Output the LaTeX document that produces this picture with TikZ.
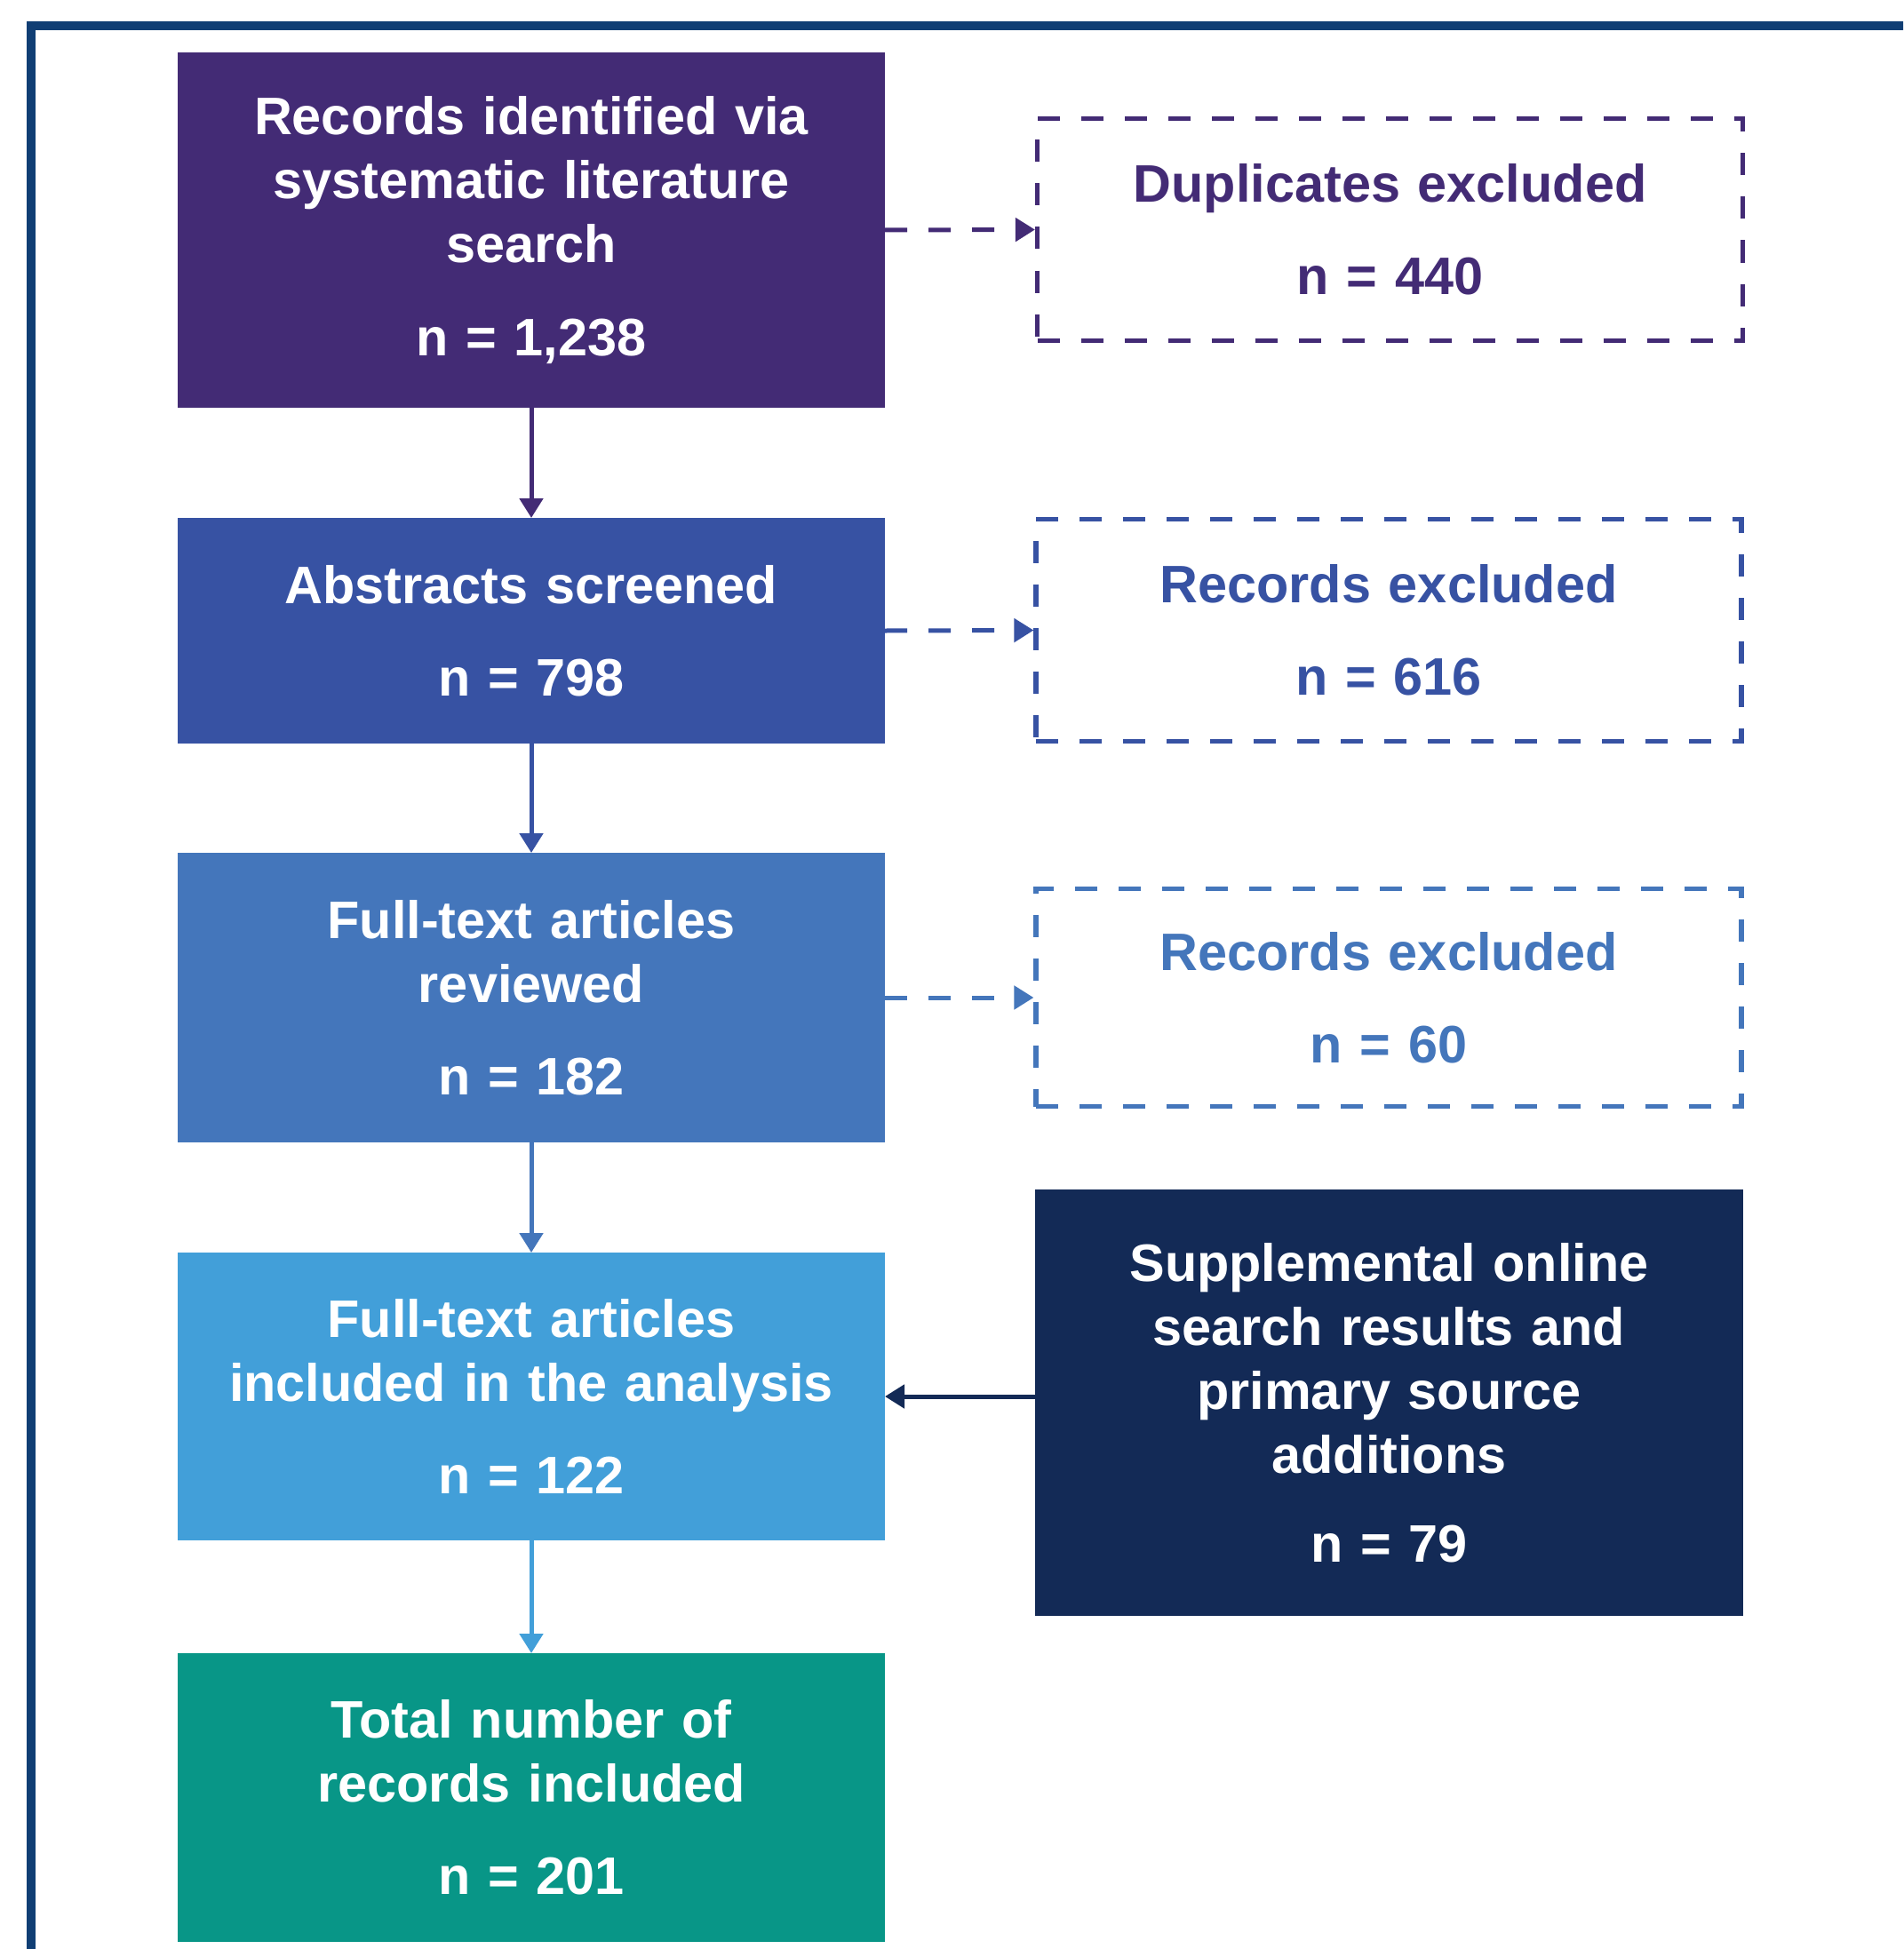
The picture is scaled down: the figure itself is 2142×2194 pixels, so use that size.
\documentclass[tikz,border=0pt]{standalone}
\usepackage{fontspec}
\setmainfont{Liberation Sans}
\usetikzlibrary{arrows.meta}

\definecolor{idcol}{HTML}{432B75}
\definecolor{abscol}{HTML}{3752A3}
\definecolor{revcol}{HTML}{4476BB}
\definecolor{inccol}{HTML}{429FD9}
\definecolor{supcol}{HTML}{132A56}
\definecolor{totcol}{HTML}{089687}
\definecolor{framecol}{HTML}{103E74}

\begin{document}
\begin{tikzpicture}[x=0.25pt,y=-0.25pt,
    stage/.style={fill=#1, text=white, inner sep=0pt, outer sep=0pt,
        minimum width=199pt, text width=190pt, align=center,
        font=\bfseries\fontsize{14.85}{18}\selectfont},
    excl/.style={draw=#1, text=#1, line width=1.3pt, dash pattern=on 6.25pt off 6pt,
        inner sep=0pt, minimum width=198.5pt, minimum height=62.5pt,
        text width=190pt, align=center, font=\bfseries\fontsize{14.85}{18}\selectfont},
    flow/.style={draw=#1, line width=1.25pt, -{Triangle[length=5.5pt,width=6.5pt]}},
    exflow/.style={flow=#1, dash pattern=on 6.25pt off 6pt}]

    \useasboundingbox (0,0) rectangle (2142,2194);
    \clip (0,0) rectangle (2142,2194);

    % frame
    \draw[framecol, line width=2.5pt] (35,2300) -- (35,29) -- (2300,29);

    % main column
    \node[stage=idcol, minimum height=100pt] (rec) at (598,259)
        {Records identified via\\ systematic literature\\ search\\[8.3pt] n = 1,238};
    \node[stage=abscol, minimum height=63.5pt] (abs) at (598,710)
        {Abstracts screened\\[8pt] n = 798};
    \node[stage=revcol, minimum height=81.5pt] (rev) at (598,1123)
        {Full-text articles\\ reviewed\\[8pt] n = 182};
    \node[stage=inccol, minimum height=81pt] (inc) at (598,1572)
        {Full-text articles\\ included in the analysis\\[8pt] n = 122};
    \node[stage=totcol, minimum height=81.25pt] (tot) at (598,2023.5)
        {Total number of\\ records included\\[8pt] n = 201};

    % side boxes
    \node[excl=idcol] (dup) at (1564.5,258.5) {Duplicates excluded\\[8pt] n = 440};
    \node[excl=abscol] (exa) at (1563,709.5) {Records excluded\\[8pt] n = 616};
    \node[excl=revcol, minimum height=61.25pt] (exr) at (1563,1123) {Records excluded\\[8pt] n = 60};
    \node[stage=supcol, minimum width=199.25pt, minimum height=120pt] (sup) at (1563.5,1579)
        {Supplemental online\\ search results and\\ primary source\\ additions\\[7pt] n = 79};

    % connectors
    \draw[flow=idcol] (rec) -- (abs);
    \draw[flow=abscol] (abs) -- (rev);
    \draw[flow=revcol] (rev) -- (inc);
    \draw[flow=inccol] (inc) -- (tot);
    \draw[exflow=idcol] (rec.east) -- (dup.west);
    \draw[exflow=abscol] (abs.east) -- (exa.west);
    \draw[exflow=revcol] (rev.east) -- (exr.west);
    \draw[flow=supcol] (sup.west |- inc.east) -- (inc.east);

\end{tikzpicture}
\end{document}
